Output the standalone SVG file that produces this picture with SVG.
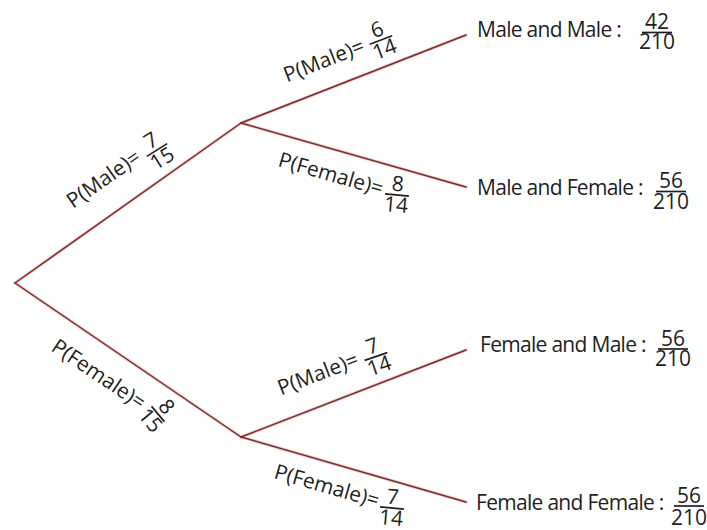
<svg xmlns="http://www.w3.org/2000/svg" width="707" height="530" viewBox="0 0 707 530">
<style>
text{font-family:"Open Sans","Noto Sans","Liberation Sans",sans-serif;font-size:21px;fill:#231f20}
.o{letter-spacing:-0.7px}
.m{text-anchor:middle}
.bar{stroke:#231f20;stroke-width:1.7}
.halo{stroke:#b0a0a0;stroke-width:3.2;opacity:0.45;fill:none;stroke-linecap:round}
.edge{stroke:#8e2424;stroke-width:1.5;fill:none;stroke-linecap:round}
</style>
<rect width="707" height="530" fill="#fff"/>
<g id="connectors">
<g class="halo">
<line x1="15" y1="283" x2="241" y2="123"/>
<line x1="15" y1="283" x2="241" y2="437"/>
<line x1="241" y1="123" x2="466" y2="35"/>
<line x1="241" y1="123" x2="466" y2="187"/>
<line x1="241" y1="437" x2="466" y2="350"/>
<line x1="241" y1="437" x2="466" y2="502"/>
</g>
<g class="edge">
<line x1="15" y1="283" x2="241" y2="123"/>
<line x1="15" y1="283" x2="241" y2="437"/>
<line x1="241" y1="123" x2="466" y2="35"/>
<line x1="241" y1="123" x2="466" y2="187"/>
<line x1="241" y1="437" x2="466" y2="350"/>
<line x1="241" y1="437" x2="466" y2="502"/>
</g>
</g>
<g id="label-m1">
<text transform="translate(73,209) rotate(-35)">P(Male)=</text>
<g transform="translate(157,150) rotate(-32)"><text class="m" x="0" y="-4">7</text><line class="bar" x1="-12" y1="0" x2="12" y2="0"/><text class="m" x="0" y="17">15</text></g>
</g>
<g id="label-f1">
<text transform="translate(50,350) rotate(34)">P(Female)=</text>
<g transform="translate(158,414) rotate(50)"><text class="m" x="0" y="-4">8</text><line class="bar" x1="-10" y1="0" x2="10" y2="0"/><text class="m" x="0" y="17">15</text></g>
</g>
<g id="label-mm">
<text transform="translate(287,82.5) rotate(-21.4)">P(Male)=</text>
<g transform="translate(381,40) rotate(-21)"><text class="m" x="0" y="-4">6</text><line class="bar" x1="-12" y1="0" x2="12" y2="0"/><text class="m" x="0" y="17">14</text></g>
</g>
<g id="label-mf">
<text transform="translate(277,166) rotate(16)">P(Female)=</text>
<g transform="translate(397,195) rotate(5)"><text class="m" x="0" y="-4">8</text><line class="bar" x1="-12" y1="0" x2="12" y2="0"/><text class="m" x="0" y="17">14</text></g>
</g>
<g id="label-fm">
<text transform="translate(281,395.5) rotate(-21)">P(Male)=</text>
<g transform="translate(376,356.5) rotate(-19)"><text class="m" x="0" y="-4">7</text><line class="bar" x1="-12" y1="0" x2="12" y2="0"/><text class="m" x="0" y="17">14</text></g>
</g>
<g id="label-ff">
<text transform="translate(273,478) rotate(16)">P(Female)=</text>
<g transform="translate(392,508) rotate(5)"><text class="m" x="0" y="-4">7</text><line class="bar" x1="-12" y1="0" x2="12" y2="0"/><text class="m" x="0" y="17">14</text></g>
</g>
<g id="outcome-mm">
<text class="o" x="477" y="37">Male and Male :</text>
<text class="m" x="657" y="29">42</text><line class="bar" x1="642" y1="32.5" x2="672" y2="32.5"/><text class="m" x="657" y="49">210</text>
</g>
<g id="outcome-mf">
<text class="o" x="477" y="195">Male and Female :</text>
<text class="m" x="671" y="188">56</text><line class="bar" x1="656" y1="191.5" x2="686" y2="191.5"/><text class="m" x="671" y="209">210</text>
</g>
<g id="outcome-fm">
<text class="o" x="480" y="352">Female and Male :</text>
<text class="m" x="673" y="346">56</text><line class="bar" x1="658" y1="349" x2="688" y2="349"/><text class="m" x="673" y="366">210</text>
</g>
<g id="outcome-ff">
<text class="o" x="476" y="510">Female and Female :</text>
<text class="m" x="689" y="503">56</text><line class="bar" x1="674" y1="506" x2="704" y2="506"/><text class="m" x="689" y="525">210</text>
</g>
</svg>
